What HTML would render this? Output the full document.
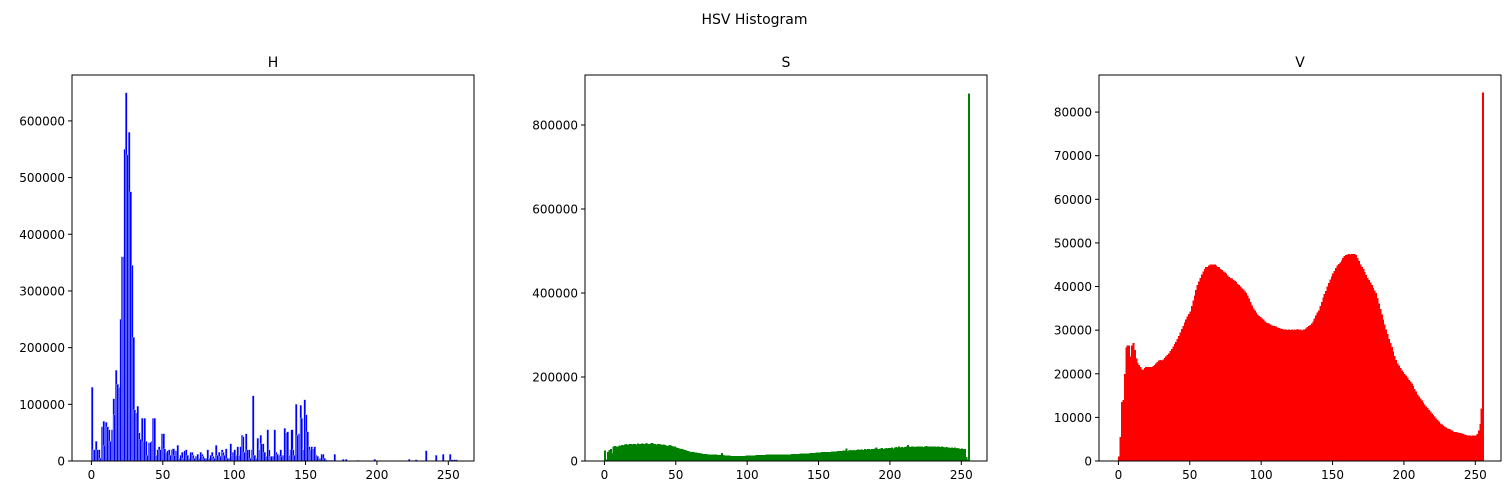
<!DOCTYPE html>
<html><head><meta charset="utf-8"><style>
html,body{margin:0;padding:0;background:#fff;}
svg{display:block;font-family:"DejaVu Sans","Liberation Sans",sans-serif;}
</style></head><body>
<svg id="fig" width="1509" height="495" viewBox="0 0 1509 495">
<text x="754.5" y="24" text-anchor="middle" font-size="14">HSV Histogram</text>
</svg>
<script>
const xTicks = [0, 50, 100, 150, 200, 250];
const hTicks = [0, 100000, 200000, 300000, 400000, 500000, 600000];
const sTicks = [0, 200000, 400000, 600000, 800000];
const vTicks = [0, 10000, 20000, 30000, 40000, 50000, 60000, 70000, 80000];
const hCountsK = [130,20,20,35,20,20,5,60,70,28,68,60,55,35,55,110,82,160,135,130,250,360,360,550,650,540,580,475,345,218,90,85,97,50,38,75,35,75,35,10,32,33,35,75,75,10,20,25,20,48,48,22,15,18,20,10,20,22,10,18,28,5,10,15,5,18,20,10,5,15,15,10,5,8,12,5,15,12,8,5,5,20,5,10,15,8,5,28,10,15,8,20,15,10,22,5,5,30,10,15,20,10,25,10,25,45,43,15,48,20,20,5,20,115,10,5,40,20,45,30,30,15,8,55,20,8,8,8,55,15,12,10,20,8,10,58,50,52,10,20,55,20,10,100,45,48,98,75,20,108,82,52,25,20,25,22,25,10,8,5,5,12,12,5,2,1,1,1,1,0,12,0,0,0,0,0,3,0,3,0,0,0,0,0,0,0,1,0,0,0,0,0,0,0,0,0,0,0,3,0,0,0,0,0,0,0,0,0,0,0,0,0,0,0,0,0,0,0,0,0,0,0,3,0,0,0,0,2,0,0,0,0,0,0,18,0,0,0,0,0,0,10,0,0,0,0,12,0,0,0,0,12,2,2,2,2,0];
const sCountsK = [25,3,22,26,28,18,35,36,34,35,37,36,38,37,39,40,38,41,40,39,41,40,39,42,41,40,42,41,40,43,41,40,42,43,41,40,39,41,40,39,38,39,38,37,36,38,37,36,35,34,32,31,30,29,28,27,26,25,24,23,22,22,21,20,20,19,19,18,18,17,17,17,16,16,16,15,15,15,15,14,14,14,19,14,13,13,13,13,12,12,12,12,12,12,12,12,12,12,12,13,13,13,13,13,13,13,14,14,14,14,14,14,14,15,15,15,15,15,15,15,15,15,16,16,16,16,16,16,16,16,16,17,17,17,17,17,17,18,18,18,18,18,18,18,19,19,19,19,20,20,20,20,21,21,21,21,22,22,22,23,23,23,23,24,24,24,24,25,25,30,24,25,26,25,26,25,26,27,26,27,27,26,28,27,28,29,27,29,28,30,32,28,29,30,31,29,30,31,30,31,31,32,30,32,33,31,34,32,33,32,33,34,38,35,33,35,34,33,34,35,34,35,34,33,35,36,34,35,34,35,35,34,33,34,35,33,34,33,32,33,32,32,31,32,31,32,30,31,30,29,30,28,29,10,3,875];
const vCountsK = [1,5.5,13.5,14,20,26,26.5,26.5,24,26.5,27,25.5,23.5,22.5,22,21.5,21,21,21.3,21.5,21.5,21.6,21.5,21.6,21.8,22,22.3,22.7,23,23.1,23,23.3,23.6,24,24.3,24.7,25.2,25.7,26.3,26.8,27.3,28,28.7,29.5,30.3,31,31.7,32.4,33.1,33.7,34.3,35.5,36.8,38,39.2,40.3,41.2,42,42.8,43.5,44,44.5,44.5,44.8,45,45,45,45,44.8,44.5,44.5,44,43.8,43.5,43.2,43,42.5,42.2,42,41.8,41.5,41.3,41,40.6,40.3,40,39.6,39.3,38.9,38.5,38,37.3,36.5,35.7,35,34.5,34,33.6,33.3,33,32.7,32.4,32,31.8,31.6,31.5,31.3,31.1,31,31,30.8,30.6,30.5,30.4,30.3,30.2,30.2,30.1,30,30.1,30,30.2,29.9,30.1,30,30.3,30,30.1,29.9,30.2,30.2,30.4,30.7,31,31.2,31.5,32,32.7,33.4,34,34.5,35.5,36.5,37.5,38.3,39,40,40.8,41.6,42.3,43,43.6,44.2,44.8,45.2,45.5,46,46.5,47,47.2,47.3,47.5,47.4,47.5,47.5,47.5,47.2,46.5,45.8,45.1,44.5,44,43.3,42.6,42,41.5,40.9,40.3,39.7,39.1,38.5,37.4,36.1,34.8,33.6,32.4,31.3,30.2,29.1,28,27,26.1,25.1,24.1,23.2,22.4,21.9,21.3,20.8,20.4,20,19.6,19.1,18.6,18.2,17.8,17.2,16.5,15.9,15.3,14.8,14.3,13.9,13.4,12.9,12.5,12.1,11.7,11.3,10.9,10.6,10.2,9.8,9.4,9,8.6,8.4,8.1,7.9,7.7,7.5,7.3,7.2,7,6.8,6.7,6.6,6.5,6.4,6.4,6.3,6.2,6.1,6,5.9,5.8,5.8,5.7,5.8,5.8,5.8,6.2,7,8.5,12,84.5];

const NS = "http://www.w3.org/2000/svg";
const fig = document.getElementById('fig');
function mk(tag, attrs, parent) {
  const e = document.createElementNS(NS, tag);
  for (const k in attrs) e.setAttribute(k, attrs[k]);
  (parent || fig).appendChild(e);
  return e;
}
const TOP = 75, BOT = 461, XMIN = -13.6, XMAX = 268;
function panel(name, left, counts, ymax, ticks, color, edge) {
  const right = left + 402;
  const g = mk('g', {});
  
  
  const xs = v => left + (v - XMIN) / (XMAX - XMIN) * (right - left);
  const ys = v => BOT - v / ymax * (BOT - TOP);
  counts.forEach((c, i) => {
    const val = c * 1000;
    if (val <= 0) return;
    const x0 = xs(i), x1 = xs(i + 1);
    const r = mk('rect', {x: x0 - 0.3, y: ys(val), width: (x1 - x0) + 0.6, height: BOT - ys(val), fill: color, 'shape-rendering': 'crispEdges'}, g);
    if (edge) { r.setAttribute('stroke', edge); r.setAttribute('stroke-width', '0.5'); }
    
    
  });
  const fr = mk('rect', {x: left, y: TOP, width: 402, height: BOT - TOP, fill: 'none', stroke: '#000', 'stroke-width': 1}, g);
  
  
  xTicks.forEach(t => {
    const x = xs(t);
    mk('line', {x1: x, x2: x, y1: BOT, y2: BOT + 4, stroke: '#000'}, g);
    const tx = mk('text', {x: x, y: BOT + 18, 'text-anchor': 'middle', 'font-size': 12}, g);
    tx.textContent = t;
    
    
  });
  ticks.forEach(t => {
    const y = ys(t);
    mk('line', {x1: left - 4, x2: left, y1: y, y2: y, stroke: '#000'}, g);
    const tx = mk('text', {x: left - 7, y: y + 4.5, 'text-anchor': 'end', 'font-size': 12}, g);
    tx.textContent = t;
    
    
  });
  const ti = mk('text', {x: left + 201, y: TOP - 8, 'text-anchor': 'middle', 'font-size': 14}, g);
  ti.textContent = name.toUpperCase();
  
  
}
panel('h', 72, hCountsK, 681000, hTicks, '#0000ff', '#b0b8ff');
panel('s', 585, sCountsK, 919000, sTicks, '#008000', null);
panel('v', 1099, vCountsK, 88500, vTicks, '#ff0000', null);
</script>
</body></html>
